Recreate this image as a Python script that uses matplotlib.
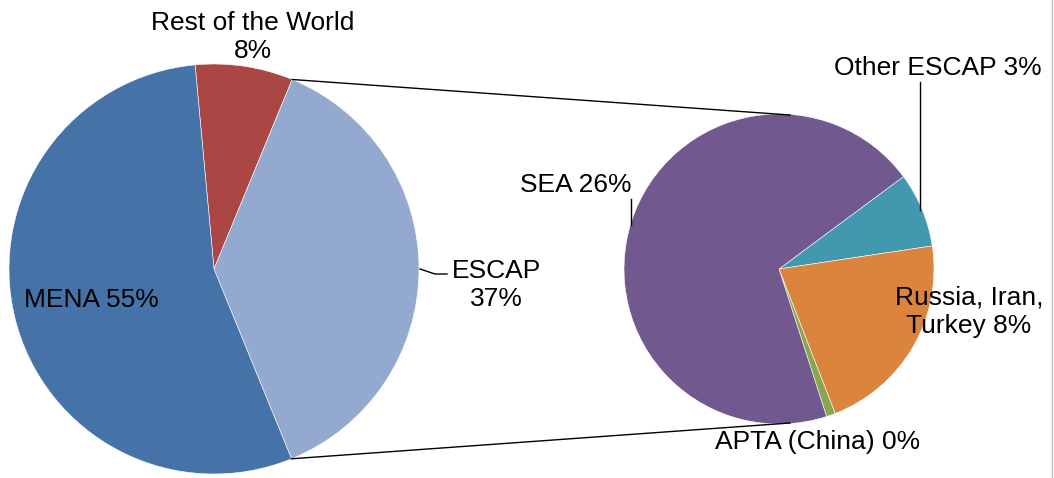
import numpy as np
import matplotlib.pyplot as plt

plt.rcParams['font.family'] = ['Liberation Sans', 'DejaVu Sans']

# main pie (clockwise from the top)
main_labels = ['Rest of the World', 'ESCAP', 'MENA']
main_values = [7.7, 37.6, 54.7]
main_colors = ['#AA4643', '#93A9CF', '#4572A7']

# breakdown of ESCAP
sub_labels = ['Other ESCAP', 'Russia, Iran, Turkey', 'APTA (China)', 'SEA']
sub_values = [2.9, 8.0, 0.35, 26.0]
sub_colors = ['#4198AF', '#DB843D', '#89A54E', '#71588F']

W, H = 1054, 478
fig = plt.figure(figsize=(W / 100, H / 100), dpi=100)
ax = fig.add_axes([0, 0, 1, 1])

c1, r1 = (214, H - 269), 205
c2, r2 = (779, H - 269), 155

w1, _ = ax.pie(main_values, colors=main_colors, startangle=95.3, counterclock=False,
               center=c1, radius=r1, frame=True,
               wedgeprops=dict(linewidth=0.4, edgecolor='white'))
w2, _ = ax.pie(sub_values, colors=sub_colors, startangle=36.6, counterclock=False,
               center=c2, radius=r2, frame=True,
               wedgeprops=dict(linewidth=0.4, edgecolor='white'))
ax.set_xlim(0, W)
ax.set_ylim(0, H)
ax.set_aspect('equal')
ax.axis('off')

# connector lines between the ESCAP slice and the second pie
e = w1[1]
for ang, end in [(e.theta2, (790, H - 115)), (e.theta1, (790, H - 423))]:
    a = np.deg2rad(ang)
    start = (c1[0] + r1 * np.cos(a), c1[1] + r1 * np.sin(a))
    ax.plot([start[0], end[0]], [start[1], end[1]], color='black', lw=1)

fs = 19
ls = 1.22
ax.text(253, H - 37, 'Rest of the World\n8%', ha='center', va='center', fontsize=fs, linespacing=ls)
ax.text(496, H - 285, 'ESCAP\n37%', ha='center', va='center', fontsize=fs, linespacing=ls)
ax.plot([420, 435, 447], [H - 269, H - 274, H - 274], color='black', lw=1)
ax.text(91, H - 300, 'MENA 55%', ha='center', va='center', fontsize=fs)

ax.text(938, H - 68, 'Other ESCAP 3%', ha='center', va='center', fontsize=fs)
ax.plot([920, 920], [H - 82, H - 210], color='black', lw=1)
ax.text(576, H - 185, 'SEA 26%', ha='center', va='center', fontsize=fs)
ax.plot([631, 631], [H - 199, H - 225], color='black', lw=1)
ax.text(969, H - 312, 'Russia, Iran,\nTurkey 8%', ha='center', va='center', fontsize=fs, linespacing=ls)
ax.text(818, H - 442, 'APTA (China) 0%', ha='center', va='center', fontsize=fs)

# right border line
ax.plot([1052, 1052], [0, H], color='#BFBFBF', lw=1)

fig.savefig('out.png', dpi=100)
